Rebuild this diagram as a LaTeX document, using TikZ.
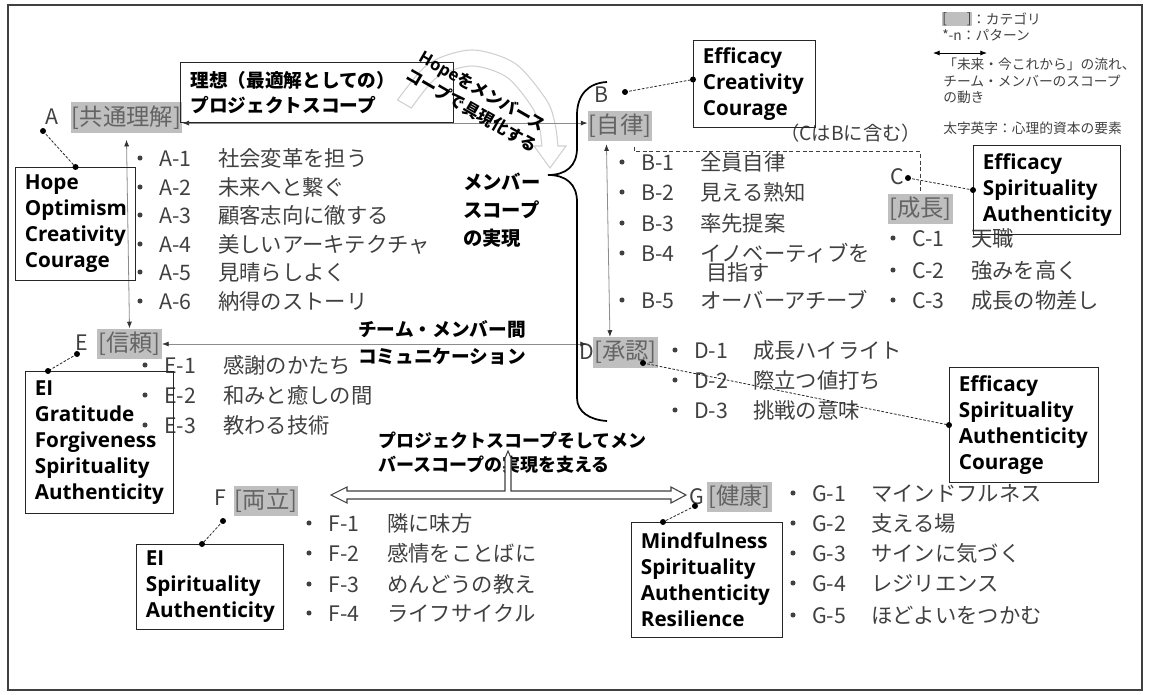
\documentclass[tikz,border=0pt]{standalone}
\usepackage{fontspec}
\setmainfont{Noto Sans CJK JP}
\newfontfamily\enbf{Open Sans}
\usetikzlibrary{arrows.meta,calc}
\definecolor{txt}{HTML}{404040}
\definecolor{catfill}{HTML}{BFBFBF}
\definecolor{cattxt}{HTML}{646464}
\definecolor{lnk}{HTML}{8C8C8C}
\definecolor{arcg}{HTML}{D0D0D0}
\newcommand{\litem}[5]{%
  \node[bul] at (#2,#3) {};
  \node[lst] (#1) at (#2+19,#3) {\makebox[44.25pt][l]{#4}#5};}
\begin{document}
\begin{tikzpicture}[x=0.75pt,y=-0.75pt,
  lst/.style={anchor=west,inner sep=0pt,text=txt,font=\fontsize{16}{19}\selectfont},
  bul/.style={circle,fill=txt,inner sep=0pt,minimum size=3.8pt},
  cat/.style={fill=catfill,text=cattxt,inner xsep=0.8pt,inner ysep=0pt,minimum height=23pt,font=\fontsize{17.5}{20}\selectfont},
  letter/.style={text=txt,inner sep=0pt,font=\fontsize{16}{18}\selectfont},
  ebox/.style={draw=black!85,line width=0.8pt,anchor=north west,align=left,inner xsep=7pt,inner ysep=0pt,font=\enbf\bfseries\fontsize{15.5}{19.5}\selectfont},
  dot/.style={circle,fill=black,inner sep=0pt,minimum size=4.5pt},
  dsh/.style={black!85,line width=0.6pt,dash pattern=on 2pt off 1.2pt},
  dshb/.style={txt,line width=0.8pt,dash pattern=on 3pt off 2pt},
  link/.style={lnk,line width=0.6pt,{Latex[length=5pt,width=3.8pt,color=black!80]}-{Latex[length=5pt,width=3.8pt,color=black!80]}},
  jbold/.style={inner sep=0pt,text=black,font=\bfseries\fontsize{14}{20}\selectfont},
  leg/.style={anchor=west,inner sep=0pt,text=txt,font=\fontsize{10.3}{12.3}\selectfont}
]
\useasboundingbox (0,0) rectangle (1152,695);
\draw[txt,line width=0.8pt] (8,5) rectangle (1142,690);

% faint curved hollow arrow
\draw[arcg,line width=0.8pt]
  plot[smooth] coordinates {(397.5,100) (429,63.4) (472,50) (515,63.4) (546.5,100) (555.1,124.1) (557.9,146)}
  -- (566,146) -- (550,168) -- (534,146) -- (541.9,146)
  -- plot[smooth] coordinates {(541.9,146) (539.6,128.3) (532.6,108) (507,77.3) (472,66) (437,77.3) (411.4,108)}
  -- cycle;

% legend
\node[fill=catfill,inner sep=0pt,minimum height=11pt,text=txt,font=\fontsize{10.3}{12}\selectfont,anchor=west] (lg1) at (942,19) {\makebox[22pt][l]{[\hfill]}};
\node[leg] (lg1t) at (lg1.east) {：カテゴリ};
\node[leg] (lg2) at (942,35) {*-n：パターン};
\coordinate (la) at (933,53);
\coordinate (lb) at (987,53);
\draw[black,line width=0.6pt,{Latex[length=5pt,width=3.8pt]}-{Latex[length=5pt,width=3.8pt]}] (la) -- (lb);
\node[leg,align=left] (lg3) at (943,81) {「未来・今これから」の流れ、\\チーム・メンバーのスコープ\\の動き};
\node[leg] (lg4) at (943,128) {太字英字：心理的資本の要素};

% categories
\node[cat] (acat) at (126.5,117.5) {[共通理解]};
\node[cat] (bcat) at (620,126) {[自律]};
\node[cat] (ccat) at (920.5,209) {[成長]};
\node[cat] (dcat) at (625.5,352.5) {[承認]};
\node[cat] (ecat) at (129.5,344) {[信頼]};
\node[cat] (fcat) at (266,501) {[両立]};
\node[cat] (gcat) at (739.5,497) {[健康]};

% letters
\node[letter] (alet) at (52,117) {A};
\node[letter] (blet) at (601,95) {B};
\node[letter] (clet) at (897,177) {C};
\node[letter] (dlet) at (587,352) {D};
\node[letter] (elet) at (82,343) {E};
\node[letter] (flet) at (220,498) {F};
\node[letter] (glet) at (697,497) {G};

% title box and connectors
\node[draw=black!85,line width=0.8pt,anchor=north west,align=left,minimum width=204.75pt,minimum height=45pt,text width=189.75pt,inner xsep=7.5pt,inner ysep=0pt,font=\bfseries\fontsize{14}{18.75}\selectfont] (tbox) at (180,62) {理想（最適解としての）\\プロジェクトスコープ};
\draw[link] (acat.east |- tbox.south) -- (bcat.west |- tbox.south);
\draw[link] ([yshift=-5pt]acat.south) -- (ecat.north);
\draw[link] ([xshift=14.25pt,yshift=-2pt]bcat.south west) -- ([xshift=12.75pt]dcat.north west);
\draw[link] (ecat.east) -- (ecat.east -| dlet.north);
\draw[dshb] ($(bcat.south west)+(47,5)$) -- ++(0,5) -| (ccat.north);

% curved text
\node[inner sep=0pt,rotate=-30,font=\bfseries\fontsize{12.5}{14}\selectfont] (hope1) at (482,92) {{\enbf Hope}をメンバース};
\node[inner sep=0pt,rotate=-30,font=\bfseries\fontsize{12.5}{14}\selectfont] (hope2) at (472,110) {コープで具現化する};

% brace
\draw[black,line width=1.3pt] (607,82) .. controls (588,83) and (577,95) .. (577,115) -- (577,148)
  .. controls (577,166) and (566,175) .. (548,175) .. controls (566,175) and (577,184) .. (577,202)
  -- (577,398) .. controls (577,412) and (590,420) .. (607,421);

% bold japanese labels
\node[jbold,anchor=west,align=left,font=\bfseries\fontsize{14.5}{21}\selectfont] (mscope) at (463,210) {メンバー\\スコープ\\の実現};
\node[jbold,anchor=west,align=left,font=\bfseries\fontsize{14}{20.25}\selectfont] (comm) at (358,343) {チーム・メンバー間\\コミュニケーション};
\node[jbold,anchor=west,align=left,font=\bfseries\fontsize{13.5}{18}\selectfont] (supp) at (378,453) {プロジェクトスコープそしてメン\\バースコープの実現を支える};
\node[inner sep=0pt,anchor=west,text=txt,font=\fontsize{14.5}{17}\selectfont] (cinb) at (780,133) {（CはBに含む）};

% hollow T arrow
\draw[txt,line width=0.8pt,fill=white] (331,495) -- (347,487) -- (347,491) -- (505,491) -- (505,458) -- (508,451) -- (511,458) -- (511,491)
  -- (671,491) -- (671,487) -- (686,495) -- (671,503) -- (671,499) -- (347,499) -- (347,503) -- cycle;

% lists
\litem{a1}{140}{158}{A-1}{社会変革を担う}
\litem{a2}{140}{187}{A-2}{未来へと繋ぐ}
\litem{a3}{140}{215}{A-3}{顧客志向に徹する}
\litem{a4}{140}{244}{A-4}{美しいアーキテクチャ}
\litem{a5}{140}{272}{A-5}{見晴らしよく}
\litem{a6}{140}{301}{A-6}{納得のストーリ}
\litem{b1}{622}{162}{B-1}{全員自律}
\litem{b2}{622}{192}{B-2}{見える熟知}
\litem{b3}{622}{223}{B-3}{率先提案}
\litem{b4}{622}{253}{B-4}{イノベーティブを}
\node[lst] (b4b) at (706,272) {目指す};
\litem{b5}{622}{300}{B-5}{オーバーアチーブ}
\litem{c1}{893}{238}{C-1}{天職}
\litem{c2}{893}{270}{C-2}{強みを高く}
\litem{c3}{893}{300}{C-3}{成長の物差し}
\litem{d1}{675}{350}{D-1}{成長ハイライト}
\litem{d2}{675}{380}{D-2}{際立つ値打ち}
\litem{d3}{675}{410}{D-3}{挑戦の意味}
\litem{e1}{145}{365}{E-1}{感謝のかたち}
\litem{e2}{145}{395}{E-2}{和みと癒しの間}
\litem{e3}{145}{425}{E-3}{教わる技術}
\litem{f1}{309}{523}{F-1}{隣に味方}
\litem{f2}{309}{553}{F-2}{感情をことばに}
\litem{f3}{309}{584}{F-3}{めんどうの教え}
\litem{f4}{309}{613}{F-4}{ライフサイクル}
\litem{g1}{793}{493}{G-1}{マインドフルネス}
\litem{g2}{793}{523}{G-2}{支える場}
\litem{g3}{793}{553}{G-3}{サインに気づく}
\litem{g4}{793}{583}{G-4}{レジリエンス}
\litem{g5}{793}{615}{G-5}{ほどよいをつかむ}

% element boxes
\node[ebox,minimum width=90pt,minimum height=84.75pt,text width=76pt] (hbox) at (15,167) {Hope\\Optimism\\Creativity\\Courage};
\node[ebox,minimum width=91.5pt,minimum height=65.25pt,text width=77.5pt] (bbox) at (693,40) {Efficacy\\Creativity\\Courage};
\node[ebox,minimum width=110.25pt,minimum height=66.75pt,text width=96.25pt] (cbox) at (973,145) {Efficacy\\Spirituality\\Authenticity};
\node[ebox,minimum width=111.75pt,minimum height=86.25pt,text width=97.75pt] (dbox) at (949,367) {Efficacy\\Spirituality\\Authenticity\\Courage};
\node[ebox,minimum width=111pt,minimum height=106.5pt,text width=97pt] (eebox) at (25,371) {EI\\Gratitude\\Forgiveness\\Spirituality\\Authenticity};
\node[ebox,minimum width=110.25pt,minimum height=63.75pt,text width=96.25pt] (fbox) at (136,544) {EI\\Spirituality\\Authenticity};
\node[ebox,minimum width=113.25pt,minimum height=86.25pt,text width=99.25pt] (gbox) at (631,522) {Mindfulness\\Spirituality\\Authenticity\\Resilience};

% dots and dashed connectors
\coordinate (ad1) at (43,131);  \coordinate (ad2) at (hbox.north);
\coordinate (bd1) at (625,92);  \coordinate (bd2) at ([yshift=3.4pt]bbox.west);
\coordinate (cd1) at (908,178); \coordinate (cd2) at (cbox.west);
\coordinate (dd1) at (643,363); \coordinate (dd2) at (dbox.west);
\coordinate (ed1) at (77,354);  \coordinate (ed2) at ([xshift=17.25pt]eebox.north west);
\coordinate (fd1) at (223,521); \coordinate (fd2) at ([xshift=49.5pt]fbox.north west);
\coordinate (gd1) at (695,506); \coordinate (gd2) at ([xshift=24pt]gbox.north west);
\foreach \p in {a,b,c,d,e,f,g}{
  \draw[dsh] (\p d1) -- (\p d2);
  \node[dot] at (\p d1) {};
  \node[dot] at (\p d2) {};
}
\end{tikzpicture}
\end{document}
